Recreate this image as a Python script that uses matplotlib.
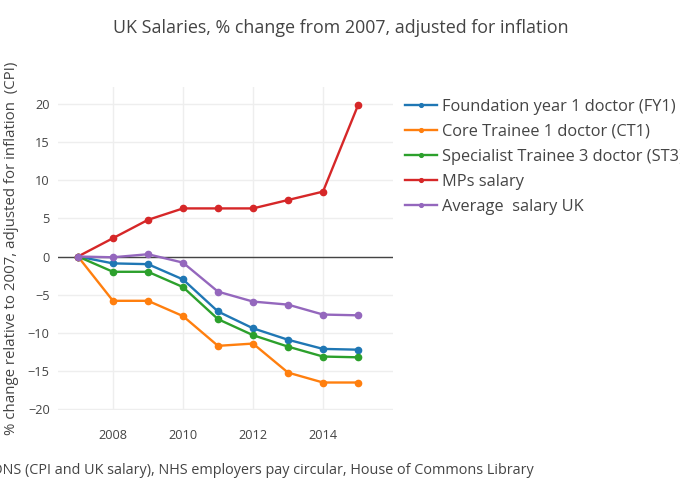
import numpy as np
from matplotlib import pyplot as plt
from matplotlib.ticker import FixedLocator, FuncFormatter

years = [2007, 2008, 2009, 2010, 2011, 2012, 2013, 2014, 2015]

fy1 = [0, -0.9, -1.0, -3.0, -7.2, -9.4, -10.9, -12.1, -12.2]
ct1 = [0, -5.8, -5.8, -7.8, -11.7, -11.4, -15.2, -16.5, -16.5]
st3 = [0, -2.0, -2.0, -4.0, -8.2, -10.3, -11.8, -13.1, -13.2]
mps = [0, 2.4, 4.8, 6.3, 6.3, 6.3, 7.4, 8.5, 19.8]
avg = [0, -0.1, 0.3, -0.8, -4.6, -5.9, -6.3, -7.6, -7.7]

names = ["Foundation year 1 doctor (FY1)", "Core Trainee 1 doctor (CT1)",
         "Specialist Trainee 3 doctor (ST3)", "MPs salary", "Average  salary UK"]
series = [fy1, ct1, st3, mps, avg]
colors = ["#1f77b4", "#ff7f0e", "#2ca02c", "#d62728", "#9467bd"]

plt.rcParams["font.family"] = ["Open Sans", "DejaVu Sans"]

W, H = 680, 497
fig = plt.figure(figsize=(W / 100, H / 100), dpi=100)
ax = fig.add_axes([58 / W, 1 - 410 / H, (393 - 58) / W, (410 - 87) / H])

for s, c, n in zip(series, colors, names):
    ax.plot(years, s, "-o", color=c, lw=1.7, ms=4.5, label=n, zorder=3)

ax.axhline(0, color="#444444", lw=1, zorder=2)

ax.set_xlim(2006.43, 2016)
ax.set_ylim(-20.1, 22.2)
ax.xaxis.set_major_locator(FixedLocator([2008, 2010, 2012, 2014]))
ax.yaxis.set_major_locator(FixedLocator([-20, -15, -10, -5, 0, 5, 10, 15, 20]))
ax.yaxis.set_major_formatter(FuncFormatter(lambda v, p: f"{v:.0f}".replace("-", "\u2212")))
ax.grid(color="#eeeeee", lw=1)
ax.set_axisbelow(True)
ax.tick_params(length=0, labelsize=9.2, labelcolor="#444444", pad=6)
ax.tick_params(axis="x", pad=14)
for sp in ax.spines.values():
    sp.set_visible(False)

ax.set_ylabel("% change relative to 2007, adjusted for inflation  (CPI)",
              fontsize=10.8, color="#444444", labelpad=6)

fig.text(341 / W, 1 - 28 / H, "UK Salaries, % change from 2007, adjusted for inflation",
         ha="center", va="center", fontsize=12.9, color="#444444")
fig.text(534 / W, 1 - 470 / H,
         "Source: ONS (CPI and UK salary), NHS employers pay circular, House of Commons Library",
         ha="right", va="center", fontsize=10.4, color="#444444")

leg = fig.legend(loc="upper left", bbox_to_anchor=(390 / W, 1 - 84 / H), frameon=False,
                 fontsize=11.8, handlelength=1.95, handletextpad=0.3, labelspacing=0.55,
                 markerscale=0.6)
for t in leg.get_texts():
    t.set_color("#444444")

fig.savefig("out.png", dpi=100)
